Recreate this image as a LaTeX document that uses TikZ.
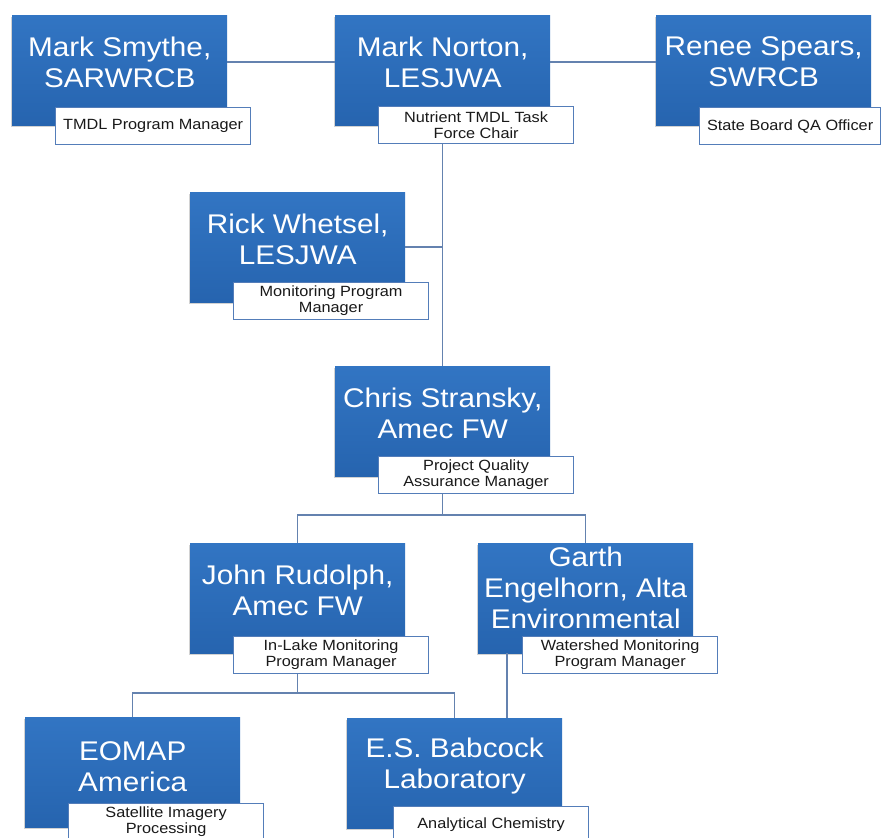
\documentclass[tikz,border=0pt]{standalone}
\usepackage{fontspec}
\setmainfont{Liberation Sans}[FakeStretch=1.1]
\usetikzlibrary{calc,shadows}
\definecolor{boxtop}{RGB}{50,117,195}
\definecolor{boxbot}{RGB}{38,100,175}
\definecolor{connc}{RGB}{100,130,175}
\definecolor{subline}{RGB}{84,125,185}
\definecolor{subtext}{RGB}{25,25,25}
\tikzset{
  mainbox/.style={anchor=north west, minimum width=215pt, minimum height=110pt, inner sep=0pt,
    top color=boxtop, bottom color=boxbot, draw=none,
    drop shadow={shadow xshift=-1.5pt, shadow yshift=-2pt, opacity=0.25, fill=black!70}},
  maintext/.style={text=white, font=\fontsize{27}{31}\selectfont, align=center, inner sep=0pt},
  subbox/.style={anchor=north west, minimum width=195pt, minimum height=37pt, inner sep=0pt,
    fill=white, draw=subline, line width=1.2pt, text=subtext,
    font=\fontsize{14.8}{16}\selectfont, align=center},
  conn/.style={draw=connc, line width=1.5pt},
}
\begin{document}
\begin{tikzpicture}[x=1pt,y=-1pt]
\useasboundingbox (0,0) rectangle (881,838);
\fill[white] (0,0) rectangle (881,838);
\clip (0,0) rectangle (881,838);

% Row 1
\node[mainbox] (smythe) at (12,15) {};
\node[maintext] (smythe-t) at ($(smythe.center)+(0,-8)$) {Mark Smythe,\\SARWRCB};
\node[subbox] (smythe-l) at ($(smythe.north west)+(43,92)$) {TMDL Program Manager};

\node[mainbox] (norton) at (335,15) {};
\node[maintext] (norton-t) at ($(norton.center)+(0,-8)$) {Mark Norton,\\LESJWA};
\node[subbox] (norton-l) at ($(norton.north west)+(43,91)$) {Nutrient TMDL Task\\Force Chair};

\node[mainbox] (renee) at (656,15) {};
\node[maintext] (renee-t) at ($(renee.center)+(0,-8)$) {Renee Spears,\\SWRCB};
\node[subbox, minimum width=181pt] (renee-l) at ($(renee.north west)+(43,92)$) {State Board QA Officer};

% Rick
\node[mainbox] (rick) at (190,192) {};
\node[maintext] (rick-t) at ($(rick.center)+(0,-8)$) {Rick Whetsel,\\LESJWA};
\node[subbox] (rick-l) at ($(rick.north west)+(43,90)$) {Monitoring Program\\Manager};

% Chris
\node[mainbox] (chris) at (335,366) {};
\node[maintext] (chris-t) at ($(chris.center)+(0,-8)$) {Chris Stransky,\\Amec FW};
\node[subbox] (chris-l) at ($(chris.north west)+(43,90)$) {Project Quality\\Assurance Manager};

% John and Garth
\node[mainbox] (john) at (190,543) {};
\node[maintext] (john-t) at ($(john.center)+(0,-8)$) {John Rudolph,\\Amec FW};
\node[subbox] (john-l) at ($(john.north west)+(43,93)$) {In-Lake Monitoring\\Program Manager};

\node[mainbox] (garth) at (478,543) {};
\node[maintext] (garth-t) at ($(garth.center)+(0,-10)$) {Garth\\Engelhorn, Alta\\Environmental};
\node[subbox] (garth-l) at ($(garth.north west)+(44,93)$) {Watershed Monitoring\\Program Manager};

% Bottom row
\node[mainbox] (eomap) at (25,717) {};
\node[maintext] (eomap-t) at ($(eomap.center)+(0,-6)$) {EOMAP\\America};
\node[subbox] (eomap-l) at ($(eomap.north west)+(43,86)$) {Satellite Imagery\\Processing};

\node[mainbox] (babcock) at (347,718) {};
\node[maintext] (babcock-t) at ($(babcock.center)+(0,-7)$) {E.S. Babcock\\Laboratory};
\node[subbox] (babcock-l) at ($(babcock.north west)+(46,88)$) {Analytical Chemistry};

% Connectors
\draw[conn] (smythe.east |- 0,62) -- (norton.west |- 0,62);
\draw[conn] (norton.east |- 0,62) -- (renee.west |- 0,62);
\draw[conn] (norton.center |- norton-l.south) -- (chris.north);
\draw[conn] (rick.east) -- (rick.east -| norton.center);
\draw[conn] (chris.center |- chris-l.south) -- ++(0,21) coordinate (cj);
\draw[conn] (cj) -| (john.north);
\draw[conn] (cj) -| (garth.north);
\draw[conn] (john.center |- john-l.south) -- ++(0,19) coordinate (jj);
\draw[conn] (jj) -| (eomap.north);
\draw[conn] (jj) -| (babcock.north);
\draw[conn] ($(garth.south west)+(29,0)$) coordinate (gb) -- (gb |- babcock.north);
\end{tikzpicture}
\end{document}
